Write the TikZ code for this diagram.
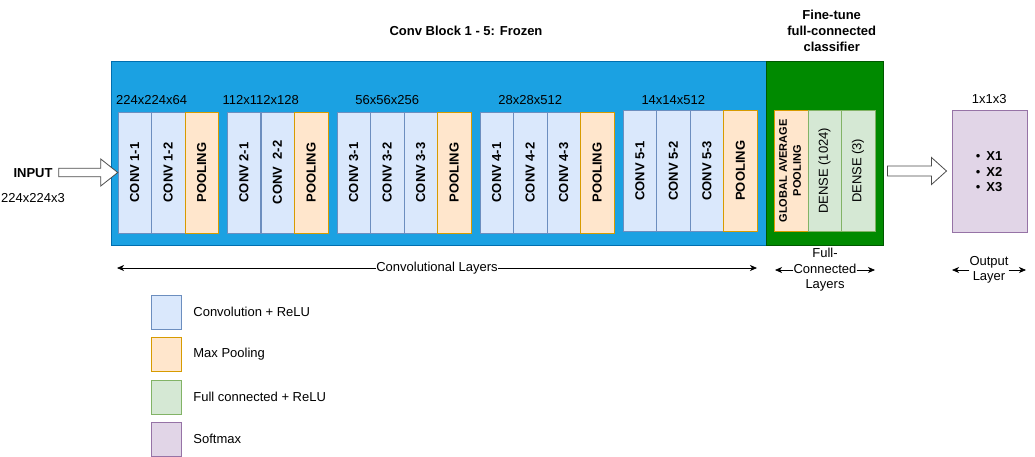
\documentclass[tikz,border=0pt]{standalone}
\usepackage{fontspec}
\setmainfont{Liberation Sans}
\usepackage{tikz}
\usetikzlibrary{positioning,arrows.meta}
\definecolor{frozenfill}{HTML}{1BA1E2}
\definecolor{frozenline}{HTML}{006EAF}
\definecolor{tunefill}{HTML}{008A00}
\definecolor{tuneline}{HTML}{005700}
\definecolor{convfill}{HTML}{DAE8FC}
\definecolor{convline}{HTML}{6C8EBF}
\definecolor{poolfill}{HTML}{FFE6CC}
\definecolor{poolline}{HTML}{D79B00}
\definecolor{densefill}{HTML}{D5E8D4}
\definecolor{denseline}{HTML}{82B366}
\definecolor{softfill}{HTML}{E1D5E7}
\definecolor{softline}{HTML}{9673A6}
\tikzset{txt/.style={inner sep=0pt,font=\fontsize{13}{15.5}\selectfont},
  bold/.style={inner sep=0pt,font=\bfseries\fontsize{13}{16}\selectfont},
  cell/.style={minimum width=33.5pt,minimum height=121pt,inner sep=0pt,font=\bfseries\fontsize{13}{15}\selectfont},
  convcell/.style={cell,draw=convline,fill=convfill},
  poolcell/.style={cell,draw=poolline,fill=poolfill},
  densecell/.style={cell,draw=denseline,fill=densefill},
  legendbox/.style={minimum width=30pt,minimum height=34pt,inner sep=0pt},
  blockarrow/.style={draw=black!70,fill=white,line width=0.8pt},
  dimline/.style={->,line width=0.7pt}}

\begin{document}
\begin{tikzpicture}[>={Stealth[length=7pt,width=6pt,inset=2pt]},x=1pt,y=-1pt]
    \useasboundingbox (0,0) rectangle (1035,456);
    % frozen and trainable parts
    \node[draw=frozenline,fill=frozenfill,minimum width=655pt,minimum height=184pt,inner sep=0pt] (frozen) at (438.5,153) {};
    \node[draw=tuneline,fill=tunefill,minimum width=117pt,minimum height=184pt,inner sep=0pt] (tune) at (824.5,153) {};
    \node[bold] (frozentitle) at (466,31) {Conv Block 1 - 5: Frozen};
    \node[bold,align=center] (tunetitle) at (831.7,31) {Fine-tune\\full-connected\\classifier};

    % block 1
    \node[convcell] (c11) at (134.7,172.5) {\rotatebox{90}{CONV 1-1}};
    \node[convcell] (c12) at (168.2,172.5) {\rotatebox{90}{CONV 1-2}};
    \node[poolcell] (p1) at (201.7,172.5) {\rotatebox{90}{POOLING}};
    % block 2
    \node[convcell] (c21) at (243.8,172.5) {\rotatebox{90}{CONV 2-1}};
    \node[convcell] (c22) at (277.5,172.5) {\rotatebox{90}{CONV\ \ 2-2}};
    \node[poolcell] (p2) at (311.2,172.5) {\rotatebox{90}{POOLING}};
    % block 3
    \node[convcell] (c31) at (353.7,172.5) {\rotatebox{90}{CONV 3-1}};
    \node[convcell] (c32) at (387.2,172.5) {\rotatebox{90}{CONV 3-2}};
    \node[convcell] (c33) at (420.7,172.5) {\rotatebox{90}{CONV 3-3}};
    \node[poolcell] (p3) at (454.2,172.5) {\rotatebox{90}{POOLING}};
    % block 4
    \node[convcell] (c41) at (496.7,172.5) {\rotatebox{90}{CONV 4-1}};
    \node[convcell] (c42) at (530.2,172.5) {\rotatebox{90}{CONV 4-2}};
    \node[convcell] (c43) at (563.7,172.5) {\rotatebox{90}{CONV 4-3}};
    \node[poolcell] (p4) at (597.2,172.5) {\rotatebox{90}{POOLING}};
    % block 5
    \node[convcell] (c51) at (639.8,170.8) {\rotatebox{90}{CONV 5-1}};
    \node[convcell] (c52) at (673.3,170.8) {\rotatebox{90}{CONV 5-2}};
    \node[convcell] (c53) at (706.8,170.8) {\rotatebox{90}{CONV 5-3}};
    \node[poolcell] (p5) at (740.3,170.8) {\rotatebox{90}{POOLING}};
    % classifier
    \node[poolcell,font=\bfseries\fontsize{11}{14}\selectfont] (gap) at (791,170.8) {\rotatebox{90}{\begin{tabular}{@{}c@{}}GLOBAL AVERAGE\\POOLING\end{tabular}}};
    \node[densecell,font=\fontsize{13}{15}\selectfont] (d1) at (824.5,170.8) {\rotatebox{90}{DENSE (1024)}};
    \node[densecell,font=\fontsize{13}{15}\selectfont] (d2) at (858,170.8) {\rotatebox{90}{DENSE (3)}};

    % feature sizes
    \node[txt,above=7pt of c11.north east] (dim1) {224x224x64};
    \node[txt,above=7pt of c21.north east] (dim2) {112x112x128};
    \node[txt,above=7pt of c32.north] (dim3) {56x56x256};
    \node[txt,above=7pt of c42.north] (dim4) {28x28x512};
    \node[txt,above=5.5pt of c52.north] (dim5) {14x14x512};

    % input
    \node[bold] (input) at (33,173) {INPUT};
    \node[txt] (insize) at (33,198) {224x224x3};
    \draw[blockarrow] (c11.west) -- ++(-17,-13.5) -- ++(0,9.3) -- ++(-42,0) -- ++(0,8.4) -- ++(42,0) -- ++(0,9.3) -- cycle;

    % output
    \node[draw=softline,fill=softfill,minimum width=75pt,minimum height=122pt,inner sep=0pt] (outbox) at (989.2,171) {};
    \node[txt,above=5.5pt of outbox.north] (outsize) {1x1x3};
    \node[txt,align=left,font=\bfseries\fontsize{13}{15.5}\selectfont] (classes) at (989,172) {\textmd{\textbullet}\hspace{6pt}X1\\\textmd{\textbullet}\hspace{6pt}X2\\\textmd{\textbullet}\hspace{6pt}X3};
    \draw[blockarrow] ([xshift=-5pt]outbox.west) -- ++(-15,-13.5) -- ++(0,8.5) -- ++(-44,0) -- ++(0,10) -- ++(44,0) -- ++(0,8.5) -- cycle;

    % layer spans
    \node[txt,fill=white] (convspan) at (437,268) {Convolutional Layers};
    \coordinate (convl) at (117,268);
    \coordinate (convr) at (757,268);
    \draw[dimline] (convspan) -- (convl);
    \draw[dimline] (convspan) -- (convr);
    \node[txt,fill=white,align=center] (fcspan) at (825,270) {Full-\\Connected\\Layers};
    \coordinate (fcl) at (775,270);
    \coordinate (fcr) at (875,270);
    \draw[dimline] (fcspan) -- (fcl);
    \draw[dimline] (fcspan) -- (fcr);
    \node[txt,fill=white,align=center] (outspan) at (989,270) {Output\\Layer};
    \coordinate (outl) at (952,270);
    \coordinate (outr) at (1026,270);
    \draw[dimline] (outspan) -- (outl);
    \draw[dimline] (outspan) -- (outr);

    % legend
    \node[legendbox,draw=convline,fill=convfill] (lconv) at (166,312) {};
    \node[legendbox,draw=poolline,fill=poolfill,below=8pt of lconv] (lpool) {};
    \node[legendbox,draw=denseline,fill=densefill,below=8pt of lpool] (ldense) {};
    \node[legendbox,draw=softline,fill=softfill,below=8pt of ldense] (lsoft) {};
    \node[txt,right=12pt of lconv] {Convolution + ReLU};
    \node[txt,right=12pt of lpool] {Max Pooling};
    \node[txt,right=12pt of ldense] {Full connected + ReLU};
    \node[txt,right=12pt of lsoft] {Softmax};
\end{tikzpicture}
\end{document}
